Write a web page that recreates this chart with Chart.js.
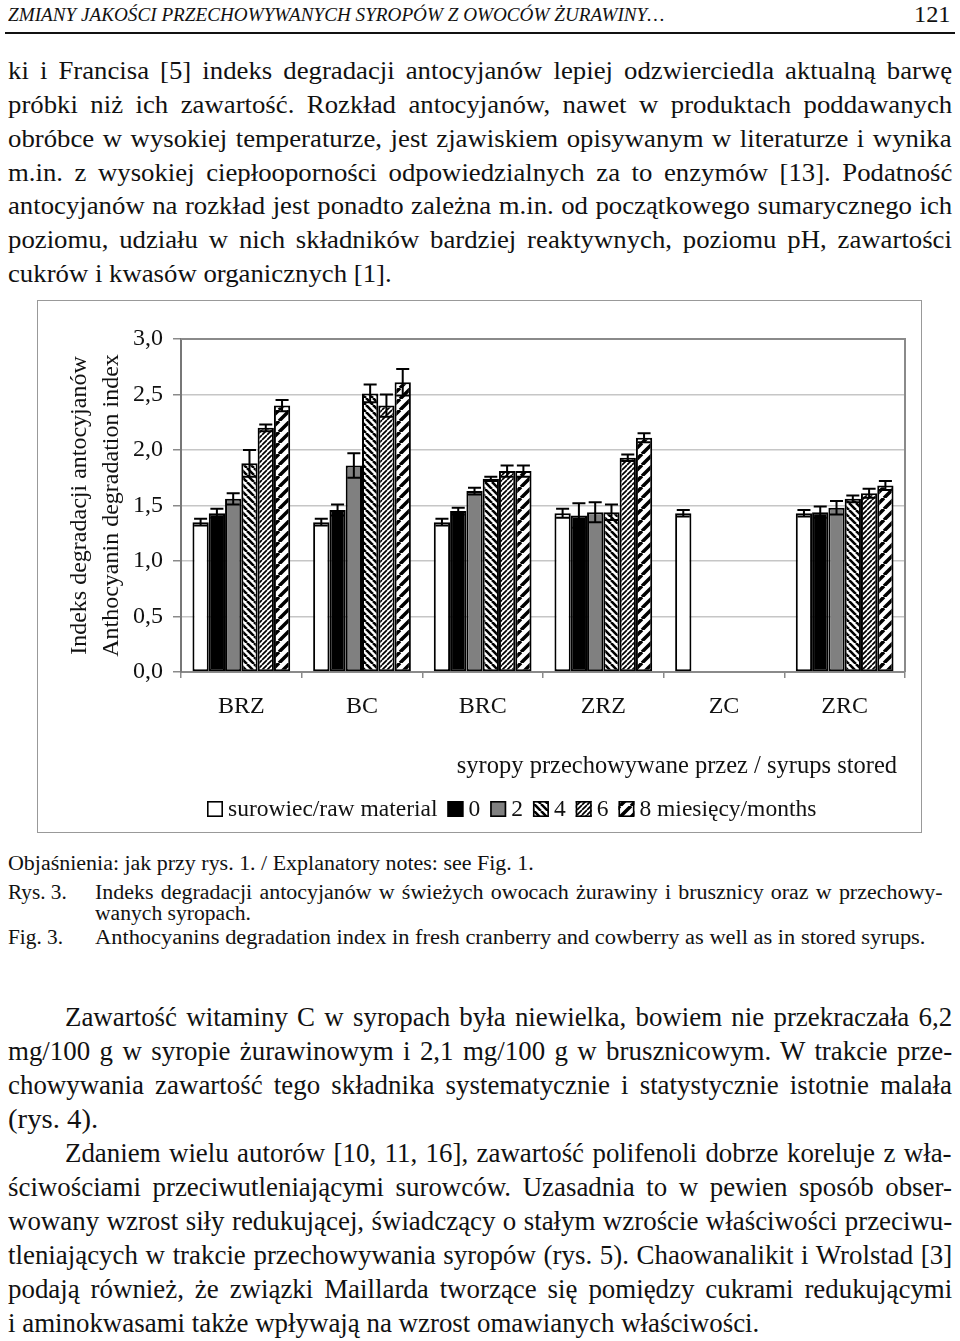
<!DOCTYPE html>
<html><head><meta charset="utf-8">
<script src="https://cdn.jsdelivr.net/npm/chart.js@4.4.0/dist/chart.umd.min.js"></script>
<style>
html,body{margin:0;padding:0;background:#fff;}
body{width:960px;height:1341px;position:relative;overflow:hidden;font-family:'Liberation Serif','Times New Roman',serif;color:#111;}
.ln{position:absolute;white-space:nowrap;}
.ln span{display:inline-block;transform-origin:0 50%;white-space:nowrap;}
#rule{position:absolute;left:5px;top:32px;width:950px;height:2px;background:#111;}
#frame{position:absolute;left:37px;top:300px;width:885px;height:533px;box-sizing:border-box;border:1.5px solid #999;pointer-events:none;}
#chart{position:absolute;left:37px;top:300px;}
</style></head>
<body>
<div id="rule"></div>
<canvas id="chart" width="885" height="533"></canvas>
<div id="frame"></div>
<script>
// ---------------- DATA ----------------
const categories = ['BRZ','BC','BRC','ZRZ','ZC','ZRC'];
const seriesLabels = ['surowiec/raw material','0','2','4','6','8 miesięcy/months'];
const rawMaterial = [1.35, 1.35, 1.35, 1.43, 1.43, 1.43];
const months0     = [1.43, 1.46, 1.45, 1.41, null, 1.44];
const months2     = [1.56, 1.86, 1.63, 1.44, null, 1.48];
const months4     = [1.88, 2.51, 1.74, 1.44, null, 1.56];
const months6     = [2.20, 2.40, 1.81, 1.93, null, 1.61];
const months8     = [2.40, 2.61, 1.81, 2.11, null, 1.68];
const errRaw = [0.03, 0.03, 0.03, 0.04, 0.03, 0.03];
const err0   = [0.04, 0.05, 0.03, 0.11, null, 0.05];
const err2   = [0.05, 0.11, 0.03, 0.09, null, 0.06];
const err4   = [0.12, 0.08, 0.02, 0.07, null, 0.03];
const err6   = [0.03, 0.10, 0.05, 0.03, null, 0.04];
const err8   = [0.05, 0.12, 0.05, 0.04, null, 0.04];
const yTicks = [0, 0.5, 1.0, 1.5, 2.0, 2.5, 3.0];
const yTitle = ['Indeks degradacji antocyjanów', 'Anthocyanin degradation index'];
const subTitle = 'syropy przechowywane przez / syrups stored';

// ---------------- PAGE TEXT ----------------
const FONT = "'Liberation Serif','Times New Roman',serif";
const groups = {
  hdr: {fs: 19, L: 24, italic: true},
  num: {fs: 23, L: 24},
  top: {fs: 25.5, L: 34},
  cap: {fs: 20.5, L: 24},
  bot: {fs: 26.5, L: 34}
};
// [text, x0, x1, centerY, group, mode]  mode: 'f' fit exactly, 'j' justify, 'l' left (fit, sets group stretch)
const lines = [
  ['ZMIANY JAKOŚCI PRZECHOWYWANYCH SYROPÓW Z OWOCÓW ŻURAWINY…', 8, 664, 15, 'hdr', 'f'],
  ['121', 914, 951, 15, 'num', 'f'],
  ['ki i Francisa [5] indeks degradacji antocyjanów lepiej odzwierciedla aktualną barwę', 8, 952, 71, 'top', 'j'],
  ['próbki niż ich zawartość. Rozkład antocyjanów, nawet w produktach poddawanych', 8, 952, 105, 'top', 'j'],
  ['obróbce w wysokiej temperaturze, jest zjawiskiem opisywanym w literaturze i wynika', 8, 952, 139, 'top', 'j'],
  ['m.in. z wysokiej ciepłooporności odpowiedzialnych za to enzymów [13]. Podatność', 8, 952, 172.5, 'top', 'j'],
  ['antocyjanów na rozkład jest ponadto zależna m.in. od początkowego sumarycznego ich', 8, 952, 206, 'top', 'j'],
  ['poziomu, udziału w nich składników bardziej reaktywnych, poziomu pH, zawartości', 8, 952, 240, 'top', 'j'],
  ['cukrów i kwasów organicznych [1].', 8, 392, 274, 'top', 'l'],
  ['Objaśnienia: jak przy rys. 1. / Explanatory notes: see Fig. 1.', 8, 534, 863, 'cap', 'l'],
  ['Rys. 3.', 8, 67, 892, 'cap', 'f'],
  ['Indeks degradacji antocyjanów w świeżych owocach żurawiny i brusznicy oraz w przechowy-', 95, 943, 892, 'cap', 'j'],
  ['wanych syropach.', 95, 251, 913, 'cap', 'f'],
  ['Fig. 3.', 8, 63, 937, 'cap', 'f'],
  ['Anthocyanins degradation index in fresh cranberry and cowberry as well as in stored syrups.', 95, 925, 937, 'cap', 'f'],
  ['Zawartość witaminy C w syropach była niewielka, bowiem nie przekraczała 6,2', 65, 952, 1017, 'bot', 'j'],
  ['mg/100 g w syropie żurawinowym i 2,1 mg/100 g w brusznicowym. W trakcie prze-', 8, 952, 1051, 'bot', 'j'],
  ['chowywania zawartość tego składnika systematycznie i statystycznie istotnie malała', 8, 952, 1085, 'bot', 'j'],
  ['(rys. 4).', 8, 98, 1119, 'bot', 'f'],
  ['Zdaniem wielu autorów [10, 11, 16], zawartość polifenoli dobrze koreluje z wła-', 65, 952, 1153, 'bot', 'j'],
  ['ściwościami przeciwutleniającymi surowców. Uzasadnia to w pewien sposób obser-', 8, 952, 1187, 'bot', 'j'],
  ['wowany wzrost siły redukującej, świadczący o stałym wzroście właściwości przeciwu-', 8, 952, 1221, 'bot', 'j'],
  ['tleniających w trakcie przechowywania syropów (rys. 5). Chaowanalikit i Wrolstad [3]', 8, 952, 1255, 'bot', 'j'],
  ['podają również, że związki Maillarda tworzące się pomiędzy cukrami redukującymi', 8, 952, 1289, 'bot', 'j'],
  ['i aminokwasami także wpływają na wzrost omawianych właściwości.', 8, 759, 1323, 'bot', 'l']
];
const groupStretch = {};
const made = lines.map(([text, x0, x1, cy, g, mode]) => {
  const G = groups[g];
  const d = document.createElement('div');
  d.className = 'ln';
  d.style.left = x0 + 'px';
  d.style.top = (cy - G.L / 2) + 'px';
  d.style.height = G.L + 'px';
  d.style.lineHeight = G.L + 'px';
  d.style.fontSize = G.fs + 'px';
  if (G.italic) d.style.fontStyle = 'italic';
  const s = document.createElement('span');
  s.textContent = text;
  d.appendChild(s);
  document.body.appendChild(d);
  return {d, s, text, x0, x1, g, mode};
});
function layoutText() {
  made.forEach(m => {
    if (m.mode === 'j') return;
    const nat = m.s.offsetWidth;
    const k = (m.x1 - m.x0) / nat;
    m.s.style.transform = 'scaleX(' + k + ')';
    if (m.mode === 'l') groupStretch[m.g] = k;
  });
  made.forEach(m => {
    if (m.mode !== 'j') return;
    const S = groupStretch[m.g] || 1;
    const nat = m.s.offsetWidth;
    const target = m.x1 - m.x0;
    let k = S;
    if (nat * S > target) {
      k = target / nat;
    } else {
      const spaces = (m.text.match(/ /g) || []).length;
      if (spaces) m.s.style.wordSpacing = ((target / S - nat) / spaces) + 'px';
    }
    m.s.style.transform = 'scaleX(' + k + ')';
  });
}

// ---------------- PATTERNS ----------------
function makePattern(size, lw, dir) {
  const c = document.createElement('canvas');
  c.width = c.height = size;
  const x = c.getContext('2d');
  x.fillStyle = '#fff'; x.fillRect(0, 0, size, size);
  x.strokeStyle = '#000'; x.lineWidth = lw;
  x.beginPath();
  for (let k = -1; k <= 1; k++) {
    if (dir === '/') { x.moveTo(k * size, size); x.lineTo(k * size + size, 0); }
    else { x.moveTo(k * size, 0); x.lineTo(k * size + size, size); }
  }
  x.stroke();
  return c;
}

function init() {
  layoutText();
  const ctx = document.getElementById('chart').getContext('2d');
  const p4 = ctx.createPattern(makePattern(7, 2.6, '\\'), 'repeat');
  const p6 = ctx.createPattern(makePattern(5, 1.7, '/'), 'repeat');
  const p8 = ctx.createPattern(makePattern(11, 3.5, '/'), 'repeat');
  const series = [rawMaterial, months0, months2, months4, months6, months8];
  const errors = [errRaw, err0, err2, err4, err6, err8];
  const fills = ['#ffffff', '#000000', '#808080', p4, p6, p8];

  const datasets = series.map((d, i) => ({
    label: seriesLabels[i],
    data: d,
    errors: errors[i],
    backgroundColor: fills[i],
    borderColor: '#000',
    borderWidth: 2,
    borderSkipped: false,
    categoryPercentage: 0.81,
    barPercentage: 1.0
  }));

  const extras = {
    id: 'extras',
    afterDatasetsDraw(chart) {
      const c = chart.ctx, ys = chart.scales.y, a = chart.chartArea;
      c.save();
      c.strokeStyle = '#000'; c.lineWidth = 2;
      chart.data.datasets.forEach((ds, i) => {
        const meta = chart.getDatasetMeta(i);
        meta.data.forEach((bar, j) => {
          const v = ds.data[j], e = ds.errors[j];
          if (v == null || e == null) return;
          const yT = ys.getPixelForValue(v + e), yB = ys.getPixelForValue(v - e);
          const hw = bar.width * 0.4;
          c.beginPath();
          c.moveTo(bar.x, yT); c.lineTo(bar.x, yB);
          c.moveTo(bar.x - hw, yT); c.lineTo(bar.x + hw, yT);
          c.moveTo(bar.x - hw, yB); c.lineTo(bar.x + hw, yB);
          c.stroke();
        });
      });
      c.strokeStyle = '#8a8a8a'; c.lineWidth = 2;
      c.beginPath();
      c.moveTo(a.left, a.top); c.lineTo(a.right, a.top); c.lineTo(a.right, a.bottom);
      c.stroke();
      c.restore();
    },
    afterDraw(chart) {
      const c = chart.ctx, a = chart.chartArea;
      c.save();
      c.fillStyle = '#111';
      c.font = '24.5px ' + FONT;
      c.textBaseline = 'middle';
      c.textAlign = 'right';
      c.fillText(subTitle, a.right - 8, a.bottom + 95);
      c.textAlign = 'left';
      c.font = '23.5px ' + FONT;
      let x = 170;
      const cy = a.bottom + 137;
      chart.data.datasets.forEach(ds => {
        c.fillStyle = ds.backgroundColor;
        c.fillRect(x, cy - 8, 16, 16);
        c.strokeStyle = '#000'; c.lineWidth = 1.6;
        c.strokeRect(x + 0.8, cy - 7.2, 14.4, 14.4);
        x += 21;
        c.fillStyle = '#111';
        c.fillText(ds.label, x, cy + 1);
        x += c.measureText(ds.label).width + 10;
      });
      c.restore();
    }
  };

  new Chart(ctx, {
    type: 'bar',
    data: {labels: categories, datasets},
    options: {
      responsive: false,
      animation: false,
      layout: {padding: {top: 39, right: 17, left: 0, bottom: 0}},
      plugins: {legend: {display: false}, tooltip: {enabled: false}, title: {display: false}},
      scales: {
        x: {
          grid: {display: true, drawOnChartArea: false, drawTicks: true, tickLength: 6, color: '#8a8a8a', lineWidth: 1.5, offset: true},
          border: {display: true, color: '#8a8a8a', width: 2},
          ticks: {color: '#111', font: {family: FONT, size: 24}, padding: 14},
          afterFit(s) { s.height = 161; }
        },
        y: {
          min: 0, max: 3,
          afterBuildTicks(s) { s.ticks = yTicks.map(v => ({value: v})); },
          ticks: {color: '#111', font: {family: FONT, size: 24}, padding: 10,
                  callback: v => Number(v).toFixed(1).replace('.', ',')},
          grid: {color: '#c6c6c6', lineWidth: 1.5, tickLength: 8, tickColor: '#8a8a8a'},
          border: {display: true, color: '#777', width: 2},
          title: {display: true, text: yTitle, color: '#111',
                  font: {family: FONT, size: 24, lineHeight: 32 / 24}, padding: {top: 27, bottom: 0}},
          afterFit(s) { s.width = 144; }
        }
      }
    },
    plugins: [extras]
  });
}
if (document.fonts && document.fonts.load) {
  Promise.all([document.fonts.load('23px "Liberation Serif"'), document.fonts.load('italic 19px "Liberation Serif"')]).then(init, init);
} else { init(); }
</script>
</body></html>
